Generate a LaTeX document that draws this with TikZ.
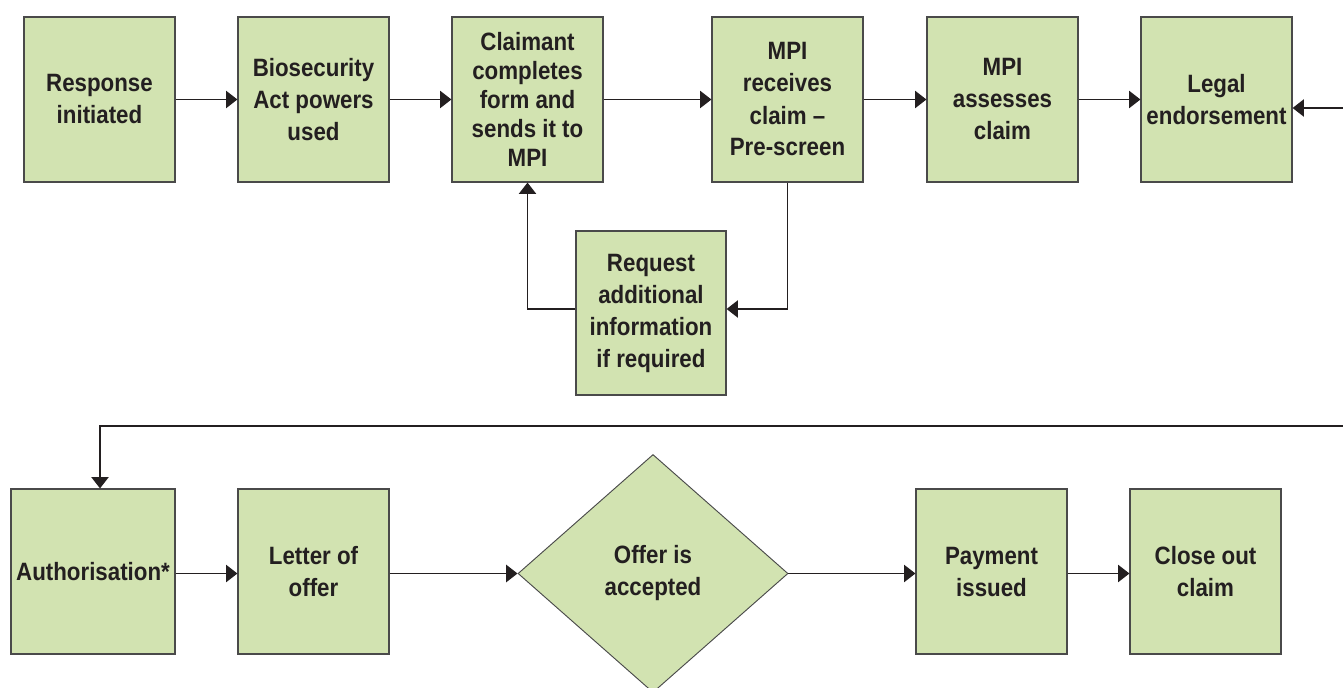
\documentclass[tikz,border=0pt]{standalone}
\usepackage{fontspec}
\setmainfont{Liberation Sans}[FakeStretch=0.89]
\usetikzlibrary{shapes.geometric,arrows.meta,calc}
\definecolor{boxfill}{HTML}{D2E3B1}
\definecolor{boxline}{HTML}{4A4A4A}
\definecolor{ink}{HTML}{231F20}
\tikzset{
  stepbox/.style={draw=boxline, line width=0.9pt, fill=boxfill, inner sep=0pt,
    minimum width=113.25pt, minimum height=123.75pt, align=center,
    font=\fontsize{18.8}{24}\selectfont\bfseries, text=ink},
  decisionbox/.style={diamond, draw=boxline, line width=0.7pt, fill=boxfill, inner sep=0pt,
    minimum width=202.5pt, minimum height=178.5pt, align=center,
    font=\fontsize{18.8}{24}\selectfont\bfseries, text=ink},
  arr/.style={draw=ink, line width=0.9pt, -{Triangle[length=8.5pt,width=13pt]}}
}
\begin{document}
\begin{tikzpicture}[x=0.75pt,y=-0.75pt]
\useasboundingbox (0,0) rectangle (1343,688);
% row 1
\node[stepbox] (resp) at (99.5,99.5) {Response\\initiated};
\node[stepbox] (bio) at (313.5,99.5) {Biosecurity\\Act powers\\used};
\node[stepbox, font=\fontsize{18.8}{21.75}\selectfont\bfseries] (claim) at (527.5,99.5) {Claimant\\completes\\form and\\sends it to\\MPI};
\node[stepbox] (recv) at (787.5,99.5) {MPI\\receives\\claim –\\Pre-screen};
\node[stepbox] (assess) at (1002.5,99.5) {MPI\\assesses\\claim};
\node[stepbox] (legal) at (1216.5,99.5) {Legal\\endorsement};
\node[stepbox, minimum width=112.5pt, minimum height=123pt] (req) at (651,313) {Request\\additional\\information\\if required};
% row 2
\node[stepbox, minimum width=123pt] (auth) at (93,571.5) {Authorisation*};
\node[stepbox] (letter) at (313.5,571.5) {Letter of\\offer};
\node[decisionbox] (offer) at (653,573.5) {Offer is\\accepted};
\node[stepbox] (pay) at (991.5,571.5) {Payment\\issued};
\node[stepbox] (close) at (1205.5,571.5) {Close out\\claim};
% connectors row 1
\draw[arr] (resp.east) -- (bio.west);
\draw[arr] (bio.east) -- (claim.west);
\draw[arr] (claim.east) -- (recv.west);
\draw[arr] (recv.east) -- (assess.west);
\draw[arr] (assess.east) -- (legal.west);
\coordinate (rin) at (1345,108);
\draw[arr] (rin) -- (rin -| legal.east);
\draw[arr] (recv.south) |- ($(req.east)+(0,-4)$);
\draw[arr] ($(req.west)+(0,-4)$) -| (claim.south);
% loop to row 2
\coordinate (lout) at (1345,426);
\draw[arr] (lout) -| ($(auth.north)+(7,0)$);
% connectors row 2
\draw[arr] (auth.east |- offer.west) -- (letter.west |- offer.west);
\draw[arr] (letter.east |- offer.west) -- (offer.west);
\draw[arr] (offer.east) -- (pay.west |- offer.east);
\draw[arr] (pay.east |- offer.east) -- (close.west |- offer.east);
\end{tikzpicture}
\end{document}
